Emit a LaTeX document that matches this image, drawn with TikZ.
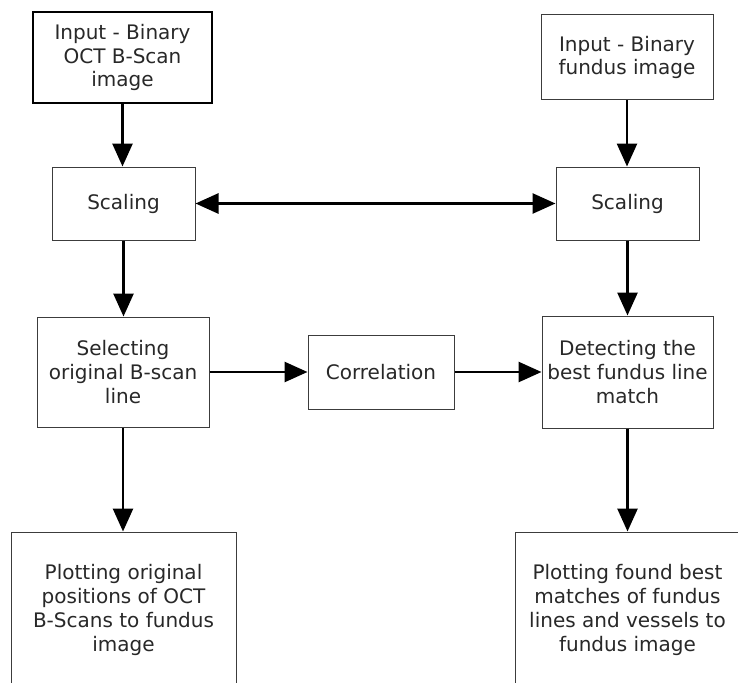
\documentclass[tikz,border=0pt]{standalone}
\usepackage{fontspec}
\setmainfont{DejaVu Sans}
\definecolor{boxgray}{RGB}{60,60,60}
\definecolor{textgray}{RGB}{40,40,40}
\usetikzlibrary{arrows.meta, positioning}

\begin{document}
\begin{tikzpicture}[
    x=1pt, y=-1pt,
    stage/.style={draw=boxgray, line width=1pt, fill=white,
                  inner sep=0pt, align=center, text=textgray,
                  font=\fontsize{20}{23.8}\selectfont,
                  minimum width=#1},
    arr/.style={-{Triangle[length=23pt, width=20pt]}, line width=2.7pt, black},
    dbl/.style={{Triangle[length=23pt, width=20pt]}-{Triangle[length=23pt, width=20pt]},
                line width=2.7pt, black}
  ]
    \useasboundingbox (0,0) rectangle (738,682);
    \clip (0,0) rectangle (738,682);

    \node[stage=179pt, minimum height=91pt, line width=2.3pt, draw=black] (octin) at (122.5,57.5)
      {Input - Binary\\OCT B-Scan\\image};
    \node[stage=172pt, minimum height=85pt] (fundin) at (627,57.5)
      {Input - Binary\\fundus image};

    \node[stage=143pt, minimum height=73pt] (octscale) at (123.5,203.5) {Scaling};
    \node[stage=143pt, minimum height=73pt] (fundscale) at (627.5,203.5) {Scaling};

    \node[stage=172pt, minimum height=110pt] (select) at (123,372)
      {Selecting\\original B-scan\\line};
    \node[stage=146pt, minimum height=74pt] (corr) at (381,372) {Correlation};
    \node[stage=171pt, minimum height=112pt] (detect) at (627.5,372)
      {Detecting the\\best fundus line\\match};

    \node[stage=225pt, minimum height=156pt] (octplot) at (123.5,610)
      {Plotting original\\positions of OCT\\B-Scans to fundus\\image};
    \node[stage=225pt, minimum height=156pt] (fundplot) at (627.5,610)
      {Plotting found best\\matches of fundus\\lines and vessels to\\fundus image};

    \draw[arr] (octin.south) -- (octin.south |- octscale.north);
    \draw[arr] (fundin.south) -- (fundin.south |- fundscale.north);
    \draw[dbl] (octscale.east) -- (fundscale.west);
    \draw[arr] (octscale.south) -- (octscale.south |- select.north);
    \draw[arr] (fundscale.south) -- (fundscale.south |- detect.north);
    \draw[arr] (select.east) -- (corr.west);
    \draw[arr] (corr.east) -- (detect.west);
    \draw[arr] (select.south) -- (select.south |- octplot.north);
    \draw[arr] (detect.south) -- (detect.south |- fundplot.north);
  \end{tikzpicture}
\end{document}
